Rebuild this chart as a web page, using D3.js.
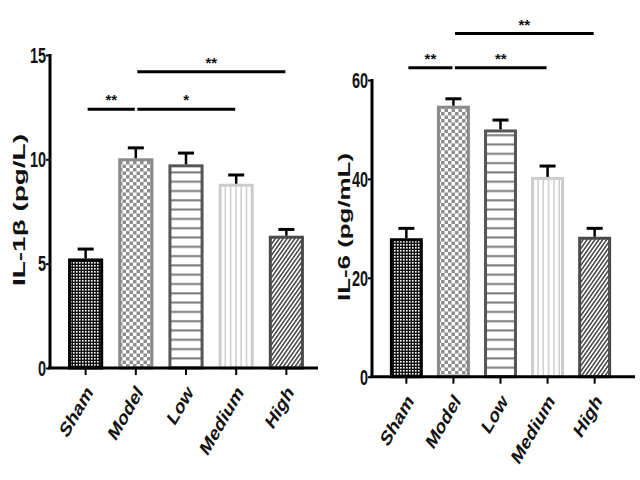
<!DOCTYPE html>
<html><head><meta charset="utf-8">
<script src="https://cdn.jsdelivr.net/npm/d3@7"></script>
<style>html,body{margin:0;padding:0;background:#fff;}svg{display:block;}</style>
</head><body>
<svg id="c" width="640" height="480"></svg>
<script>
const categories = ["Sham", "Model", "Low", "Medium", "High"];
const il1bMean = [5.25, 10.05, 9.76, 8.83, 6.34];
const il1bErr  = [0.45, 0.50, 0.54, 0.42, 0.30];
const il6Mean  = [28.0, 54.8, 50.0, 40.4, 28.3];
const il6Err   = [2.0, 1.4, 1.9, 2.2, 1.7];
const il1bTicks = [0, 5, 10, 15];
const il6Ticks  = [0, 20, 40, 60];
const il1bSig = [
  {from: "Sham",  to: "Model",  level: 12.4, label: "**"},
  {from: "Model", to: "Medium", level: 12.4, label: "*"},
  {from: "Model", to: "High",   level: 14.2, label: "**"}
];
const il6Sig = [
  {from: "Sham",  to: "Model",  level: 62.5, label: "**"},
  {from: "Model", to: "Medium", level: 62.5, label: "**"},
  {from: "Model", to: "High",   level: 69.4, label: "**"}
];
const il1bTitle = "IL-1β (pg/L)";
const il6Title = "IL-6 (pg/mL)";

const svg = d3.select("#c");
const FONT = "'Liberation Sans', Arial, sans-serif";
const defs = svg.append("defs");

// patterns
const pSham = defs.append("pattern").attr("id","pSham").attr("patternUnits","userSpaceOnUse").attr("width",3).attr("height",3);
pSham.append("rect").attr("width",3).attr("height",3).attr("fill","#111");
pSham.append("rect").attr("x",1).attr("y",1).attr("width",1.6).attr("height",1.6).attr("fill","#fff");

const pModel = defs.append("pattern").attr("id","pModel").attr("patternUnits","userSpaceOnUse").attr("width",7).attr("height",7);
pModel.append("rect").attr("width",7).attr("height",7).attr("fill","#fff");
pModel.append("rect").attr("width",3.5).attr("height",3.5).attr("fill","#8e8e8e");
pModel.append("rect").attr("x",3.5).attr("y",3.5).attr("width",3.5).attr("height",3.5).attr("fill","#8e8e8e");

const pLow = defs.append("pattern").attr("id","pLow").attr("patternUnits","userSpaceOnUse").attr("width",8).attr("height",9.3);
pLow.append("rect").attr("width",8).attr("height",9.3).attr("fill","#fff");
pLow.append("rect").attr("y",4).attr("width",8).attr("height",2).attr("fill","#7a7a7a");

const pMed = defs.append("pattern").attr("id","pMed").attr("patternUnits","userSpaceOnUse").attr("width",5.3).attr("height",8);
pMed.append("rect").attr("width",5.3).attr("height",8).attr("fill","#fff");
pMed.append("rect").attr("x",2).attr("width",1.5).attr("height",8).attr("fill","#cdcdcd");

const pHigh = defs.append("pattern").attr("id","pHigh").attr("patternUnits","userSpaceOnUse").attr("width",3.2).attr("height",10).attr("patternTransform","rotate(35)");
pHigh.append("rect").attr("width",3.2).attr("height",10).attr("fill","#fff");
pHigh.append("rect").attr("x",0).attr("width",1.5).attr("height",10).attr("fill","#444");

const fills = {Sham:"url(#pSham)", Model:"url(#pModel)", Low:"url(#pLow)", Medium:"url(#pMed)", High:"url(#pHigh)"};
const strokes = {Sham:"#000", Model:"#8a8a8a", Low:"#565656", Medium:"#cccccc", High:"#4a4a4a"};

function panel(cfg) {
  const g = svg.append("g");
  const x = d3.scaleBand().domain(categories).range(cfg.xRange).paddingInner(0.3).paddingOuter(cfg.pOuter);
  const y = d3.scaleLinear().domain([0, cfg.ticks[cfg.ticks.length-1]]).range(cfg.yRange);
  const bw = x.bandwidth();

  // bars
  g.selectAll("rect.bar").data(categories).join("rect").attr("class","bar")
    .attr("x", d => x(d) + 1.5).attr("width", bw - 3)
    .attr("y", (d,i) => y(cfg.mean[i]) + 1.5)
    .attr("height", (d,i) => y(0) - y(cfg.mean[i]) - 1.5)
    .attr("fill", d => fills[d]).attr("stroke", d => strokes[d]).attr("stroke-width", 3);

  // error bars
  categories.forEach((c,i) => {
    const cx = x(c) + bw/2;
    g.append("line").attr("x1",cx).attr("x2",cx).attr("y1",y(cfg.mean[i])).attr("y2",y(cfg.mean[i]+cfg.err[i]))
      .attr("stroke","#000").attr("stroke-width",2.5);
    g.append("line").attr("x1",cx-8).attr("x2",cx+8).attr("y1",y(cfg.mean[i]+cfg.err[i])).attr("y2",y(cfg.mean[i]+cfg.err[i]))
      .attr("stroke","#000").attr("stroke-width",3);
  });

  // y axis
  const yAxis = d3.axisLeft(y).tickValues(cfg.ticks).tickSize(4).tickFormat("");
  const ya = g.append("g").attr("transform", `translate(${cfg.xRange[0]},0)`).call(yAxis);
  ya.select(".domain").remove();
  ya.selectAll(".tick line").attr("stroke","#000").attr("stroke-width",2);
  g.append("line").attr("x1",cfg.xRange[0]).attr("x2",cfg.xRange[0]).attr("y1",y(cfg.ticks[cfg.ticks.length-1])-1).attr("y2",y(0))
    .attr("stroke","#000").attr("stroke-width",3);
  cfg.ticks.forEach(t => {
    g.append("g").attr("transform", `translate(${cfg.xRange[0]-4},${y(t)}) scale(1,1.5)`)
      .append("text").attr("text-anchor","end").attr("dy","0.36em")
      .attr("font-family",FONT).attr("font-weight","bold").attr("font-size",14.5).attr("fill","#111").text(t);
  });

  // x axis
  const xAxis = d3.axisBottom(x).tickSize(7).tickFormat("");
  const xa = g.append("g").attr("transform", `translate(0,${y(0)})`).call(xAxis);
  xa.select(".domain").remove();
  xa.selectAll(".tick line").attr("stroke","#000").attr("stroke-width",2);
  g.append("line").attr("x1",cfg.xRange[0]-2).attr("x2",cfg.xEnd).attr("y1",y(0)).attr("y2",y(0))
    .attr("stroke","#000").attr("stroke-width",3);
  categories.forEach(c => {
    g.append("g").attr("transform", `translate(${x(c)+bw/2+8},${y(0)+25}) rotate(-60) scale(1.15,1) skewX(-15)`)
      .append("text").attr("text-anchor","end")
      .attr("font-family",FONT).attr("font-weight","bold").attr("font-size",17).attr("fill","#111").text(c);
  });

  // y title
  g.append("text").attr("transform", `translate(${cfg.titleX},${cfg.titleY}) rotate(-90)`)
    .attr("text-anchor","middle").attr("font-family",FONT).attr("font-weight","bold").attr("font-size",17)
    .attr("textLength", cfg.titleLen).attr("lengthAdjust","spacingAndGlyphs").attr("fill","#111").text(cfg.title);

  // significance
  cfg.sig.forEach(s => {
    const x1 = x(s.from) + bw/2 + (s.from === "Model" ? 1.5 : 2);
    const x2 = x(s.to) + bw/2 - 1;
    const yy = y(s.level);
    g.append("line").attr("x1",x1).attr("x2",x2).attr("y1",yy).attr("y2",yy).attr("stroke","#000").attr("stroke-width",3);
    g.append("text").attr("x",(x1+x2)/2).attr("y",yy-4).attr("text-anchor","middle")
      .attr("font-family",FONT).attr("font-weight","bold").attr("font-size",15).attr("fill","#111").text(s.label);
  });
}

panel({xRange:[50,322], xEnd:318, pOuter:0.36, yRange:[368,55], ticks:il1bTicks, mean:il1bMean, err:il1bErr,
       sig:il1bSig, title:il1bTitle, titleX:25, titleY:210, titleLen:152});
panel({xRange:[372,629], xEnd:635, pOuter:0.38, yRange:[376.7,80], ticks:il6Ticks, mean:il6Mean, err:il6Err,
       sig:il6Sig, title:il6Title, titleX:350, titleY:227, titleLen:148});
</script>
</body></html>
